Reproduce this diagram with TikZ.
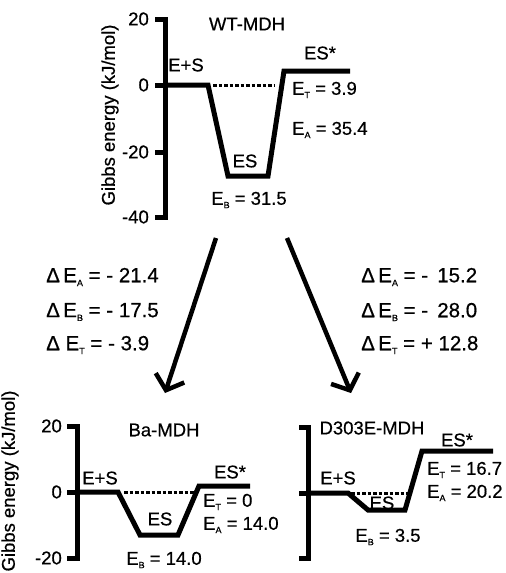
\documentclass[tikz,border=0pt]{standalone}
\usepackage{fontspec}
\setmainfont{Liberation Sans}[FakeBold=0.6]
\usetikzlibrary{arrows.meta}
\newcommand\mysub[1]{\raisebox{-0.35ex}{\fontsize{9}{9}\selectfont #1}}
\begin{document}
\begin{tikzpicture}[x=1pt,y=-1pt,
  lbl/.style={font=\fontsize{18.5}{20}\selectfont, inner sep=0pt},
  dlbl/.style={font=\fontsize{20.5}{22}\selectfont, inner sep=0pt, anchor=west},
  axisln/.style={line width=5pt, line join=miter},
  prof/.style={line width=5pt, line join=miter},
  dots/.style={line width=3pt, dash pattern=on 3.5pt off 2pt},
  bigarrow/.style={line width=4.5pt, -{Straight Barb[length=13pt,width=30pt]}}]
\useasboundingbox (0,0) rectangle (506,573);
% ---------- top panel: WT-MDH ----------
\draw[axisln] (155,19) -| (165,217) -- (155,217);
\draw[axisln] (155,85) -- (165,85) (155,152) -- (165,152);
\node[lbl, anchor=east] (t20) at (149,19) {20};
\node[lbl, anchor=east] (t0) at (149,85) {0};
\node[lbl, anchor=east] (tm20) at (149,152) {-20};
\node[lbl, anchor=east] (tm40) at (149,217) {-40};
\node[lbl, rotate=90] (ylab1) at (110,115) {Gibbs energy (kJ/mol)};
\draw[prof] (165,85) -- (208,85) -- (228,176) -- (268,176) -- (284,71) -- (350,71);
\draw[dots] (213,85) -- (275,85);
\node[lbl] (wt) at (247,24) {WT-MDH};
\node[lbl] (es1) at (186,65) {E+S};
\node[lbl] (esb1) at (245,161) {ES};
\node[lbl] (eb1) at (249,200) {E\mysub{B} = 31.5};
\node[lbl] (est1) at (320,53) {ES*};
\node[lbl, anchor=west] (et1) at (292,90) {E\mysub{T} = 3.9};
\node[lbl, anchor=west] (ea1) at (292,130) {E\mysub{A} = 35.4};
% ---------- arrows ----------
\coordinate (aLs) at (216,238);
\coordinate (aLe) at (165,393);
\coordinate (aRs) at (287,238);
\coordinate (aRe) at (351,393);
\draw[bigarrow] (aLs) -- (aLe);
\draw[bigarrow] (aRs) -- (aRe);
\node[dlbl] (dl1) at (46,277) {Δ\,E\mysub{A} = - 21.4};
\node[dlbl] (dl2) at (46,312) {Δ\,E\mysub{B} = - 17.5};
\node[dlbl] (dl3) at (46,345) {Δ\;E\mysub{T} = - 3.9};
\node[dlbl] (dr1) at (361,277) {Δ\,E\mysub{A} = - \,15.2};
\node[dlbl] (dr2) at (361,312) {Δ\,E\mysub{B} = - \,28.0};
\node[dlbl] (dr3) at (361,345) {Δ\,E\mysub{T} = + 12.8};
% ---------- bottom left: Ba-MDH ----------
\draw[axisln] (67,426) -| (77,558) -- (67,558);
\draw[axisln] (67,492) -- (77,492);
\node[lbl, anchor=east] (b20) at (62,426) {20};
\node[lbl, anchor=east] (b0) at (62,492) {0};
\node[lbl, anchor=east] (bm20) at (62,558) {-20};
\node[lbl, rotate=90] (ylab2) at (10,481) {Gibbs energy (kJ/mol)};
\draw[prof] (77,492) -- (118,492) -- (140,535) -- (178,535) -- (199,486) -- (250,486);
\draw[dots] (124,492) -- (194,492);
\node[lbl] (ba) at (164,430) {Ba-MDH};
\node[lbl] (es2) at (100,478) {E+S};
\node[lbl] (esb2) at (160,519) {ES};
\node[lbl] (eb2) at (164,560) {E\mysub{B} = 14.0};
\node[lbl] (est2) at (230,472) {ES*};
\node[lbl, anchor=west] (et2) at (203,502) {E\mysub{T} = 0};
\node[lbl, anchor=west] (ea2) at (203,525) {E\mysub{A} = 14.0};
% ---------- bottom right: D303E-MDH ----------
\draw[axisln] (299,427) -| (308,558) -- (299,558);
\draw[axisln] (299,493) -- (308,493);
\draw[prof] (308,493) -- (348,493) -- (368,510) -- (405,510) -- (422,451) -- (493,451);
\draw[dots] (351,493) -- (408,493);
\node[lbl] (dm) at (372,428) {D303E-MDH};
\node[lbl] (es3) at (338,478) {E+S};
\node[lbl] (esb3) at (382,503) {ES};
\node[lbl] (eb3) at (388,537) {E\mysub{B} = 3.5};
\node[lbl] (est3) at (457,440) {ES*};
\node[lbl, anchor=west] (et3) at (427,470) {E\mysub{T} = 16.7};
\node[lbl, anchor=west] (ea3) at (427,493) {E\mysub{A} = 20.2};
\end{tikzpicture}
\end{document}
